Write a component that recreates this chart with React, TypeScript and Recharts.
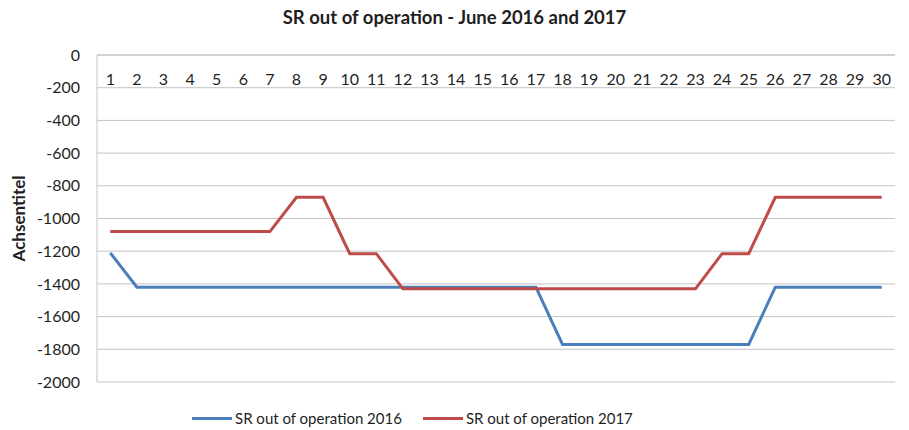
import React from 'react';
import { LineChart, Line, XAxis, YAxis, CartesianGrid } from 'recharts';

// June days
const days = [
  '1', '2', '3', '4', '5', '6', '7', '8', '9', '10',
  '11', '12', '13', '14', '15', '16', '17', '18', '19', '20',
  '21', '22', '23', '24', '25', '26', '27', '28', '29', '30',
];

const sr2016 = [
  -1210, -1420, -1420, -1420, -1420, -1420, -1420, -1420, -1420, -1420,
  -1420, -1420, -1420, -1420, -1420, -1420, -1420, -1770, -1770, -1770,
  -1770, -1770, -1770, -1770, -1770, -1420, -1420, -1420, -1420, -1420,
];

const sr2017 = [
  -1080, -1080, -1080, -1080, -1080, -1080, -1080, -870, -870, -1215,
  -1215, -1430, -1430, -1430, -1430, -1430, -1430, -1430, -1430, -1430,
  -1430, -1430, -1430, -1215, -1215, -870, -870, -870, -870, -870,
];

const yTicks = [0, -200, -400, -600, -800, -1000, -1200, -1400, -1600, -1800, -2000];

const seriesNames = ['SR out of operation 2016', 'SR out of operation 2017'];
const seriesColors = ['#4a7ebb', '#be4b48'];

const FONT = 'Lato, sans-serif';
const TEXT = '#1f1f1f';
const GRID = '#c4c4c4';

const data = days.map((d, i) => ({ day: d, s2016: sr2016[i], s2017: sr2017[i] }));

const DayTick = (props: any) => {
  const { x, y, payload } = props;
  return (
    <text x={x} y={y + 23} textAnchor="middle" dominantBaseline="central"
      fontFamily={FONT} fontSize={16} fill={TEXT}>
      {payload.value}
    </text>
  );
};

const AxisTitle = (props: any) => {
  const { viewBox } = props;
  const cy = viewBox.y + viewBox.height / 2;
  return (
    <text x={18} y={cy} transform={`rotate(-90 18 ${cy})`} textAnchor="middle"
      dominantBaseline="central" fontFamily={FONT} fontSize={17} fontWeight="bold" fill={TEXT}>
      Achsentitel
    </text>
  );
};

export default function App() {
  return (
    <div style={{ position: 'absolute', left: 0, top: 0, width: 909, height: 430, background: '#fff', fontFamily: FONT }}>
      <div style={{ position: 'absolute', top: 6, width: 909, textAlign: 'center', fontSize: 18.5, fontWeight: 'bold', color: TEXT }}>
        SR out of operation - June 2016 and 2017
      </div>
      <LineChart width={909} height={430} data={data} margin={{ top: 25, right: 14, bottom: 48, left: 0 }}>
        <CartesianGrid horizontal vertical={false} stroke={GRID} strokeWidth={1} />
        <XAxis dataKey="day" orientation="top" height={30} scale="band" axisLine={{ stroke: GRID }}
          tickLine={false} tickSize={0} tickMargin={0} interval={0} tick={<DayTick />} />
        <YAxis type="number" domain={[-2000, 0]} ticks={yTicks} width={97} interval={0}
          axisLine={{ stroke: GRID }} tickLine={false} tickSize={0} tickMargin={17}
          tick={{ fontFamily: FONT, fontSize: 16, fill: TEXT }} label={<AxisTitle />} />
        <Line dataKey="s2016" type="linear" stroke={seriesColors[0]} strokeWidth={3} dot={false} isAnimationActive={false} />
        <Line dataKey="s2017" type="linear" stroke={seriesColors[1]} strokeWidth={3} dot={false} isAnimationActive={false} />
      </LineChart>
      <div style={{ position: 'absolute', top: 409, left: 192, display: 'flex', gap: 21, fontSize: 15, color: TEXT }}>
        {seriesNames.map((n, i) => (
          <div key={n} style={{ display: 'flex', alignItems: 'center' }}>
            <span style={{ display: 'inline-block', width: 40, height: 3, background: seriesColors[i], marginRight: 3 }} />
            <span>{n}</span>
          </div>
        ))}
      </div>
    </div>
  );
}
